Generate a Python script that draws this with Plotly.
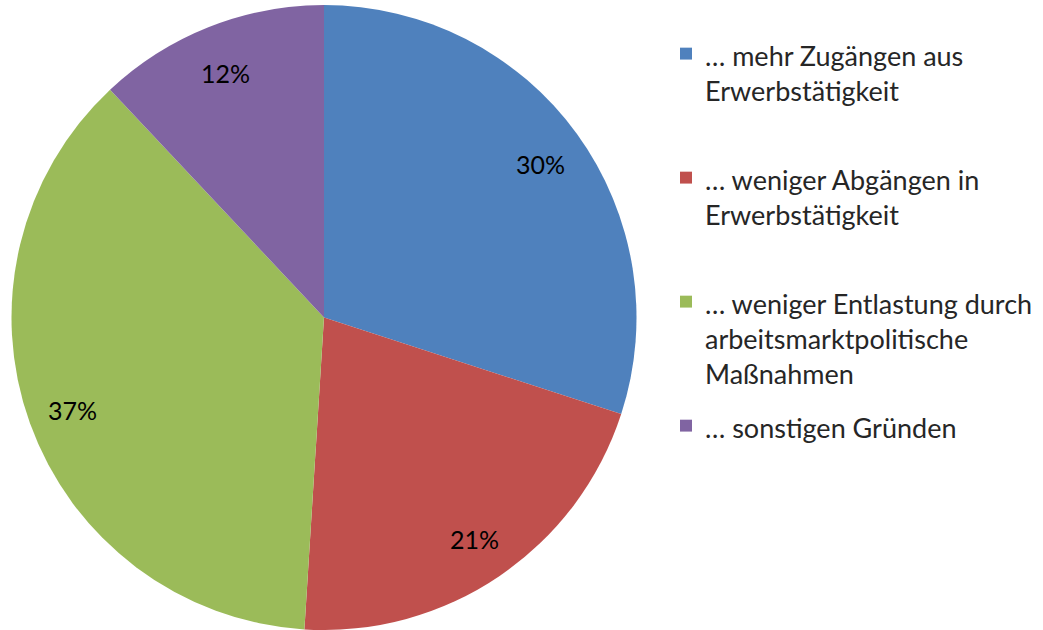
import math
import plotly.graph_objects as go

categories = [
    "… mehr Zugängen aus<br>Erwerbstätigkeit",
    "… weniger Abgängen in<br>Erwerbstätigkeit",
    "… weniger Entlastung durch<br>arbeitsmarktpolitische<br>Maßnahmen",
    "… sonstigen Gründen",
]
values = [30, 21, 37, 12]
labels_pct = ["30%", "21%", "37%", "12%"]
colors = ["#4F81BD", "#C0504D", "#9BBB59", "#8064A2"]

W, H = 1043, 630
FONT = "Lato, 'Open Sans', sans-serif"
MT = 5
DOM_X = 648 / W

fig = go.Figure(go.Pie(
    labels=categories,
    values=values,
    sort=False,
    direction="clockwise",
    rotation=0,
    marker=dict(colors=colors, line=dict(width=0)),
    textinfo="none",
    domain=dict(x=[0, DOM_X], y=[0, 1]),
    showlegend=False,
    hoverinfo="label+percent",
))

# pie geometry in pixels (derived from domain and margins)
plot_h = H - MT
cx = DOM_X * W / 2
cy = MT + plot_h / 2
r = plot_h / 2

annotations = []
total = sum(values)
cum = 0
for v, t in zip(values, labels_pct):
    mid = cum + v / 2
    cum += v
    ang = math.radians(90 - 360 * mid / total)
    px = cx + 0.856 * r * math.cos(ang)
    py = cy - 0.856 * r * math.sin(ang)
    annotations.append(dict(text=t, xref="paper", yref="paper",
                            x=px / W, y=1 - py / H, xanchor="center", yanchor="middle",
                            showarrow=False,
                            font=dict(family=FONT, size=25, color="#000000")))

# legend drawn as squares + text
legend_top = [32, 157, 282, 407]
shapes = []
for i, (lab, col) in enumerate(zip(categories, colors)):
    y0 = legend_top[i]
    shapes.append(dict(type="rect", xref="paper", yref="paper",
                       x0=680 / W, x1=692 / W,
                       y0=1 - (y0 + 11) / H, y1=1 - (y0 + 23) / H,
                       fillcolor=col, line=dict(width=0)))
    annotations.append(dict(text=lab, xref="paper", yref="paper",
                            x=703 / W, y=1 - y0 / H, xanchor="left", yanchor="top",
                            align="left", showarrow=False,
                            font=dict(family=FONT, size=27, color="#262626")))

fig.update_layout(
    width=W, height=H,
    margin=dict(l=0, r=0, t=MT, b=0),
    paper_bgcolor="white",
    plot_bgcolor="white",
    shapes=shapes,
    annotations=annotations,
)

fig.write_html("out.html", config={"displayModeBar": False},
               post_script="document.body.style.margin='0';")
